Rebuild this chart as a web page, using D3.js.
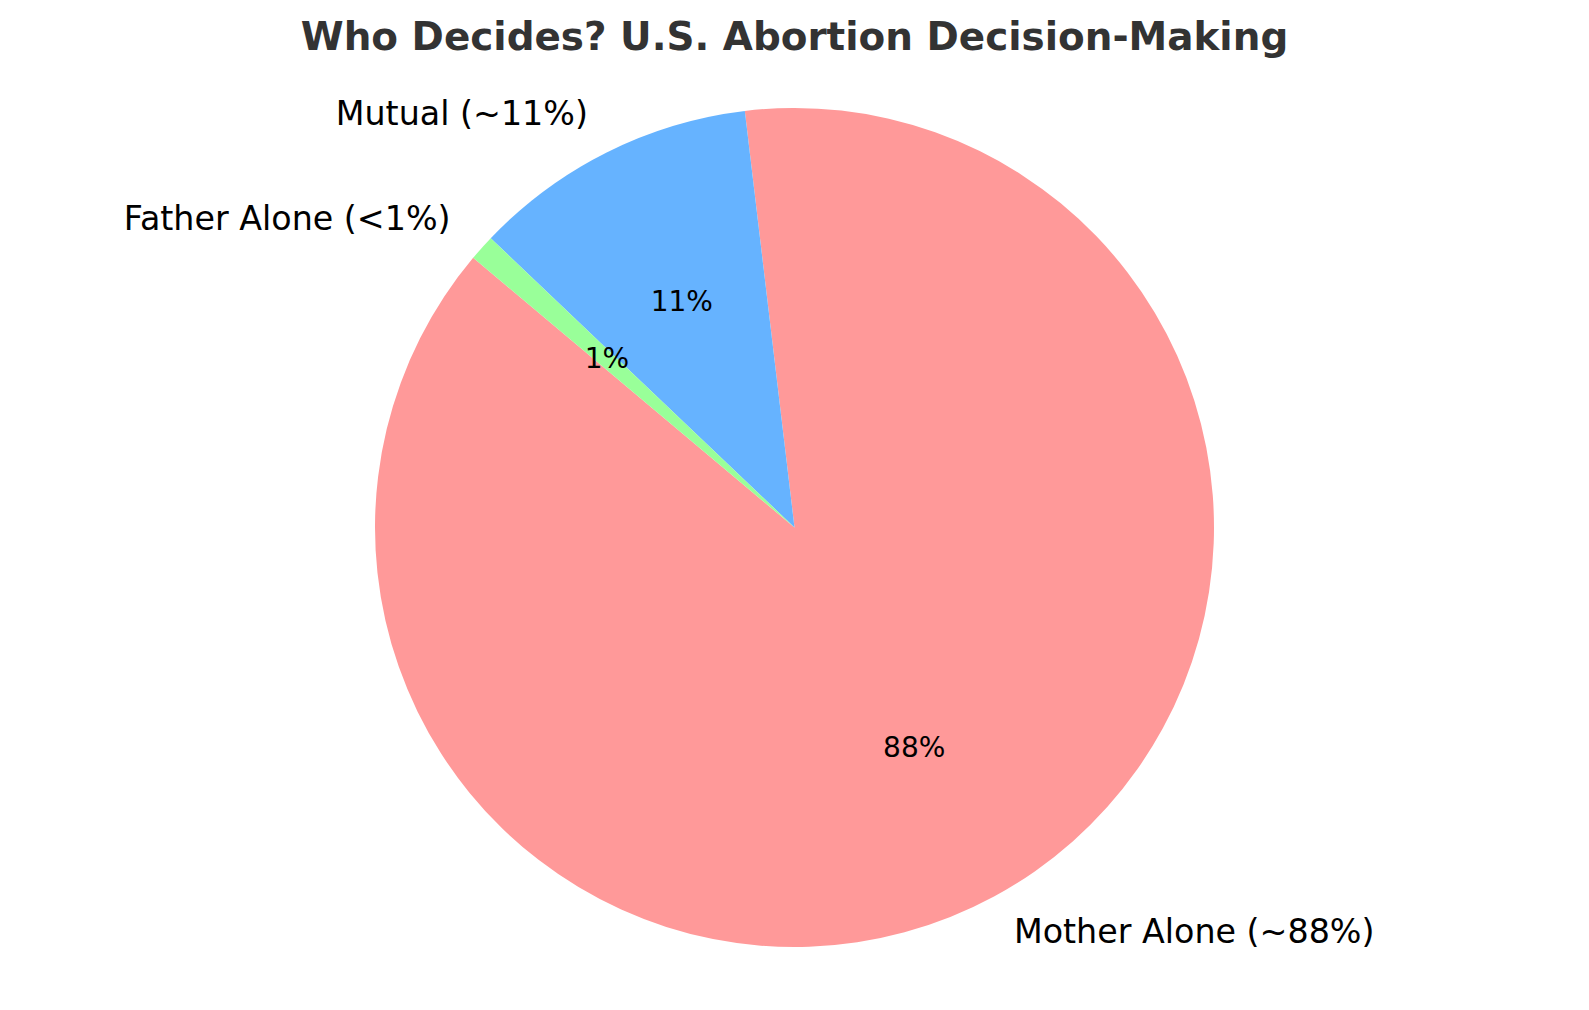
<!DOCTYPE html>
<html>
<head>
<meta charset="utf-8">
<script src="https://cdn.jsdelivr.net/npm/d3@7/dist/d3.min.js"></script>
<style>
html,body{margin:0;padding:0;background:#fff;}
svg{display:block;font-family:"DejaVu Sans",sans-serif;}
</style>
</head>
<body>
<svg id="chart" width="1589" height="1010"></svg>
<script>
const categories = ["Mother Alone", "Mutual", "Father Alone"];
const values = [88, 11, 1];
const labels = ["Mother Alone (~88%)", "Mutual (~11%)", "Father Alone (<1%)"];
const pctLabels = ["88%", "11%", "1%"];
const colors = ["#ff9999", "#66b3ff", "#99ff99"];
const title = "Who Decides? U.S. Abortion Decision-Making";
const startAngleDeg = 140; // matplotlib-style, counter-clockwise from +x

const W = 1589, H = 1010;
const cx = 794.5, cy = 527.5, R = 419.5;

const svg = d3.select("#chart");
const g = svg.append("g").attr("transform", `translate(${cx},${cy})`);

const toRad = d => d * Math.PI / 180;
const d3Start = toRad(90 - startAngleDeg);
const pie = d3.pie().sort(null).value(d => d)
  .startAngle(d3Start).endAngle(d3Start - 2 * Math.PI);
const arcs = pie(values);

const arc = d3.arc().innerRadius(0).outerRadius(R);
g.selectAll("path.slice").data(arcs).enter().append("path")
  .attr("class", "slice")
  .attr("d", arc)
  .attr("fill", (d, i) => colors[i]);

const labelArc = d3.arc().innerRadius(R * 1.1).outerRadius(R * 1.1);
const pctArc = d3.arc().innerRadius(R * 0.6).outerRadius(R * 0.6);

g.selectAll("text.lbl").data(arcs).enter().append("text")
  .attr("class", "lbl")
  .attr("x", d => labelArc.centroid(d)[0])
  .attr("y", d => labelArc.centroid(d)[1])
  .attr("dy", "0.3em")
  .attr("text-anchor", d => labelArc.centroid(d)[0] < 0 ? "end" : "start")
  .attr("font-size", "33.3px")
  .attr("fill", "#000")
  .text((d, i) => labels[i]);

g.selectAll("text.pct").data(arcs).enter().append("text")
  .attr("class", "pct")
  .attr("x", d => pctArc.centroid(d)[0])
  .attr("y", d => pctArc.centroid(d)[1])
  .attr("dy", "0.3em")
  .attr("text-anchor", "middle")
  .attr("font-size", "28px")
  .attr("fill", "#000")
  .text((d, i) => pctLabels[i]);

svg.append("text")
  .attr("x", cx).attr("y", 50)
  .attr("text-anchor", "middle")
  .attr("font-size", "38.9px")
  .attr("font-weight", "bold")
  .attr("fill", "#333333")
  .text(title);
</script>
</body>
</html>
